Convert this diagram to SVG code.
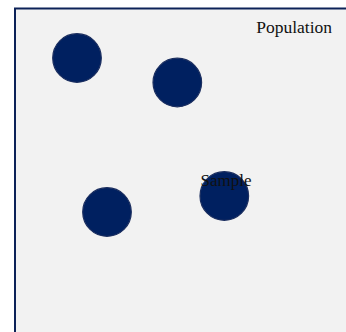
<svg xmlns="http://www.w3.org/2000/svg" width="346" height="332" viewBox="0 0 346 332">
<style>
.pop{fill:#f2f2f2;stroke:#0c2258;stroke-width:2}
.dot{fill:#002060;stroke:#1c2f60;stroke-width:1.2}
.lbl{font-family:"Liberation Serif","Times New Roman",serif;font-size:17px;fill:#111111}
</style>
<g id="population">
<rect class="pop" x="15" y="8.5" width="400" height="400"/>
<text class="lbl" x="332" y="33" text-anchor="end" style="font-size:17.5px">Population</text>
</g>
<g id="dot1"><circle class="dot" cx="77" cy="58" r="24.3"/></g>
<g id="dot2"><circle class="dot" cx="177.3" cy="82.5" r="24.3"/></g>
<g id="dot3"><circle class="dot" cx="107" cy="212" r="24.3"/></g>
<g id="sample"><circle class="dot" cx="224.3" cy="196" r="24.3"/>
<text class="lbl" x="226" y="186" text-anchor="middle">Sample</text></g>
<g id="connectors"/>
</svg>
